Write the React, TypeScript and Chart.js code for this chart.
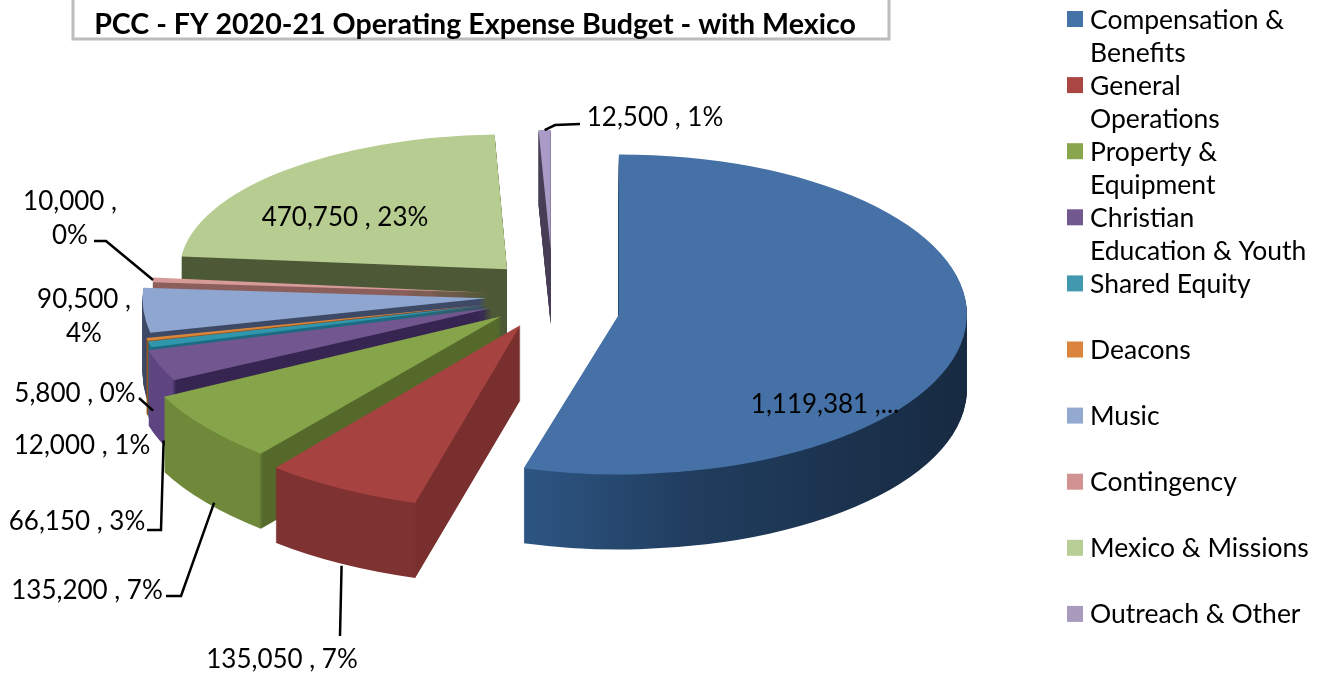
import React, { useEffect, useRef } from "react";
import { Chart, registerables } from "chart.js";

Chart.register(...registerables);

// ---- data ----
const chartTitle = "PCC - FY 2020-21 Operating Expense Budget - with Mexico";
const categories = [
  "Compensation & Benefits", "General Operations", "Property & Equipment",
  "Christian Education & Youth", "Shared Equity", "Deacons", "Music",
  "Contingency", "Mexico & Missions", "Outreach & Other",
];
const legendLines = [
  ["Compensation &", "Benefits"], ["General", "Operations"], ["Property &", "Equipment"],
  ["Christian", "Education & Youth"], ["Shared Equity"], ["Deacons"], ["Music"],
  ["Contingency"], ["Mexico & Missions"], ["Outreach & Other"],
];
const values = [1119381, 135050, 135200, 66150, 12000, 5800, 90500, 10000, 470750, 12500];

// ---- styles ----
const topColors = ["#4571a6", "#a64341", "#86a44a", "#71568f", "#2f96ae", "#d9853a", "#8ea6d0", "#d69a98", "#b7cc90", "#a99bc6"];
const legendColors = ["#4572a7", "#aa4643", "#89a54e", "#71588f", "#4198af", "#db843d", "#93a9cf", "#d19392", "#b9cd96", "#a99bbd"];
const wallOuter = ["#22405f", "#7f3232", "#6f883a", "#5e4480", "#1d6c82", "#8f5522", "#3e4a66", "#8c5f5c", "#4d5937", "#4a4058"];
const wallCut = ["#22405f", "#7a2f2f", "#55692b", "#352550", "#1d6c82", "#8f5522", "#3e4a66", "#8c5f5c", "#4d5937", "#4a4058"];
const blueWallStops: [number, string][] = [[0, "#2d5582"], [0.35, "#213e60"], [1, "#172a41"]];

// ---- layout of the tilted pie ----
const FONT = "Lato";
const pieCentre = { x: 550, y: 298 };
const wallDepth = 75;
const drawOrder = [9, 8, 7, 6, 5, 4, 3, 2, 1, 0];
const sliceExplode = [40, 33, 33, 35, 36, 36, 37, 37, 40, 75];
const sliceLift = [12, 0, 0, 0, 0, 0, -2, -3, -9, -3];
const sliceShiftX = [0, 0, 0, 0, 0, 0, 0, 0, 2, 3];
const sliceScaleX = [1.74, 1.925, 1.89, 1.78, 1.75, 1.75, 1.72, 1.68, 1.635, 1.6];
const sliceScaleY = [0.8, 0.925, 0.89, 0.8, 0.8, 0.8, 0.82, 0.8, 0.675, 0.6];

type LabelSpot = { x: number; y: number; wrap?: boolean; truncate?: boolean };
const labelSpots: LabelSpot[] = [
  { x: 825, y: 405, truncate: true },
  { x: 282, y: 660 },
  { x: 87, y: 591 },
  { x: 77, y: 522 },
  { x: 82, y: 446 },
  { x: 75, y: 394 },
  { x: 84, y: 300, wrap: true },
  { x: 70, y: 202, wrap: true },
  { x: 345, y: 218 },
  { x: 655, y: 118 },
];
type Leader = { slice: number; from: [number, number]; elbow?: [number, number]; wall: number; nudge: [number, number] };
const leaders: Leader[] = [
  { slice: 1, from: [340, 636], wall: 1, nudge: [0, 2] },
  { slice: 2, from: [166, 596], elbow: [181, 596], wall: 1, nudge: [8, 0] },
  { slice: 3, from: [147, 530], elbow: [161, 530], wall: 1, nudge: [4, 0] },
  { slice: 5, from: [139, 398], wall: 0.95, nudge: [6, 0] },
  { slice: 7, from: [94, 241], elbow: [106, 241], wall: 0, nudge: [0, 0] },
  { slice: 9, from: [580, 124], elbow: [555, 125], wall: 0, nudge: [0, 0] },
];

const total = values.reduce((a, b) => a + b, 0);
const labelLines = (i: number): string[] => {
  const v = values[i].toLocaleString("en-US");
  if (labelSpots[i].truncate) return [`${v} ,...`];
  const pct = `${Math.round((values[i] / total) * 100)}%`;
  return labelSpots[i].wrap ? [`${v} ,`, pct] : [`${v} , ${pct}`];
};

const rimPoint = (el: any, i: number) => {
  const a = (el.startAngle + el.endAngle) / 2;
  const r = el.outerRadius + sliceExplode[i];
  return {
    x: pieCentre.x + sliceShiftX[i] + sliceScaleX[i] * r * Math.cos(a),
    y: pieCentre.y + sliceLift[i] + sliceScaleY[i] * r * Math.sin(a),
  };
};

const pseudo3d = {
  id: "pseudo3d",
  beforeDatasetDraw(chart: any) {
    const ctx: CanvasRenderingContext2D = chart.ctx;
    const arcs = chart.getDatasetMeta(0).data;
    const draw = (el: any, i: number, dy: number, fill: any) => {
      const base = el.options;
      const opt = Object.create(base);
      Object.defineProperty(opt, "backgroundColor", { value: fill });
      Object.defineProperty(opt, "borderWidth", { value: 0 });
      el.options = opt;
      const mid = (el.startAngle + el.endAngle) / 2;
      ctx.save();
      ctx.translate(pieCentre.x + sliceShiftX[i], pieCentre.y + sliceLift[i] + dy);
      ctx.scale(sliceScaleX[i], sliceScaleY[i]);
      ctx.translate(sliceExplode[i] * Math.cos(mid) - el.x, sliceExplode[i] * Math.sin(mid) - el.y);
      el.draw(ctx);
      ctx.restore();
      el.options = base;
    };
    drawOrder.forEach((i) => {
      const el = arcs[i];
      const r = el.outerRadius;
      let fill: any = wallOuter[i];
      if (i === 0) {
        const g = ctx.createLinearGradient(el.x - 0.26 * r, 0, el.x + r, 0);
        blueWallStops.forEach(([p, c]) => g.addColorStop(p, c));
        fill = g;
      } else if (wallOuter[i] !== wallCut[i]) {
        // outer rim left of the near corner, radial cut face right of it
        const corner = el.x + r * Math.cos(el.startAngle);
        const g = ctx.createLinearGradient(corner - 1, 0, corner + 1, 0);
        g.addColorStop(0, wallOuter[i]);
        g.addColorStop(1, wallCut[i]);
        fill = g;
      }
      for (let d = wallDepth; d >= 1; d--) draw(el, i, d, fill);
      draw(el, i, 0, topColors[i]);
    });
    return false;
  },
  afterDatasetsDraw(chart: any) {
    const ctx: CanvasRenderingContext2D = chart.ctx;
    const arcs = chart.getDatasetMeta(0).data;
    ctx.save();
    // title frame (cut by the top of the picture)
    ctx.strokeStyle = "#bcbcbc";
    ctx.lineWidth = 3;
    ctx.beginPath();
    ctx.moveTo(73, -4);
    ctx.lineTo(73, 39);
    ctx.lineTo(889, 39);
    ctx.lineTo(889, -4);
    ctx.stroke();
    ctx.fillStyle = "#000";
    ctx.textBaseline = "middle";
    ctx.textAlign = "center";
    ctx.font = `bold 28.6px ${FONT}`;
    ctx.fillText(chartTitle, 475, 25);

    // value labels
    ctx.font = `26px ${FONT}`;
    values.forEach((_, i) => {
      labelLines(i).forEach((t, k) => ctx.fillText(t, labelSpots[i].x, labelSpots[i].y + k * 34));
    });

    // leader lines
    ctx.strokeStyle = "#000";
    ctx.lineWidth = 2.5;
    leaders.forEach((l) => {
      const p = rimPoint(arcs[l.slice], l.slice);
      ctx.beginPath();
      ctx.moveTo(l.from[0], l.from[1]);
      if (l.elbow) ctx.lineTo(l.elbow[0], l.elbow[1]);
      ctx.lineTo(p.x + l.nudge[0], p.y + l.wall * wallDepth + l.nudge[1]);
      ctx.stroke();
    });

    // legend
    ctx.textAlign = "left";
    ctx.font = `26.5px ${FONT}`;
    legendLines.forEach((lines, i) => {
      const y = 20 + i * 66.1;
      ctx.fillStyle = legendColors[i];
      ctx.fillRect(1067, y - 9, 16, 16);
      ctx.fillStyle = "#000";
      lines.forEach((t, k) => ctx.fillText(t, 1090, y + k * 33));
    });
    ctx.restore();
  },
};

export default function App() {
  const ref = useRef<HTMLCanvasElement>(null);
  useEffect(() => {
    const chart = new Chart(ref.current!, {
      type: "pie",
      data: {
        labels: categories,
        datasets: [{
          data: values,
          radius: 200,
          backgroundColor: topColors,
          borderWidth: 0,
          hoverOffset: 0,
        } as any],
      },
      options: {
        responsive: false,
        animation: false,
        events: [],
        plugins: { legend: { display: false }, title: { display: false }, tooltip: { enabled: false } },
      },
      plugins: [pseudo3d as any],
    });
    return () => chart.destroy();
  }, []);
  return (
    <div style={{ position: "absolute", left: 0, top: 0, width: 1320, height: 674, background: "#fff", overflow: "hidden" }}>
      <canvas ref={ref} width={1320} height={674} style={{ display: "block" }} />
    </div>
  );
}
